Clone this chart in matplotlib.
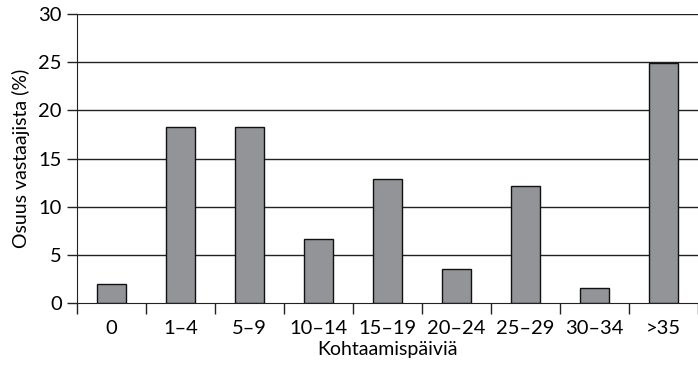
import numpy as np
import matplotlib.pyplot as plt

plt.rcParams['font.family'] = ['Lato', 'DejaVu Sans']

categories = ['0', '1–4', '5–9', '10–14', '15–19', '20–24', '25–29', '30–34', '>35']
values = [2.0, 18.3, 18.3, 6.6, 12.9, 3.5, 12.1, 1.6, 24.9]
y_ticks = [0, 5, 10, 15, 20, 25, 30]

fig = plt.figure(figsize=(6.98, 3.65), dpi=100, facecolor='w')
ax = fig.add_axes([77 / 698, 1 - 303 / 365, 1 - 77 / 698, (303 - 14) / 365])

x = np.arange(len(categories))
ax.bar(x, values, width=0.41, color='#939498', edgecolor='#111111', linewidth=1.0, zorder=3)

ax.set_xlim(-0.5, len(categories) - 0.5)
ax.set_ylim(0, 30)
ax.set_yticks(y_ticks)
ax.set_yticklabels([str(t) for t in y_ticks], fontsize=14.5)
for t in y_ticks[1:]:
    ax.axhline(t, color='#222222', lw=1.0, zorder=1)

# category labels centred, tick marks at the category boundaries
ax.set_xticks(x)
ax.set_xticklabels(categories, fontsize=14.5)
ax.tick_params(axis='x', length=0, pad=12)
ax.set_xticks(np.arange(len(categories) + 1) - 0.5, minor=True)
ax.tick_params(axis='x', which='minor', length=8, width=1, direction='out', color='#222222')
ax.tick_params(axis='y', length=7, width=1, color='#222222', pad=4)

ax.spines['top'].set_visible(False)
ax.spines['right'].set_visible(False)
ax.spines['left'].set_color('#222222')
ax.spines['bottom'].set_color('#222222')
ax.spines['bottom'].set_zorder(4)

ax.set_xlabel('Kohtaamispäiviä', fontsize=14, labelpad=3)
ax.set_ylabel('Osuus vastaajista (%)', fontsize=14, labelpad=6)

plt.savefig('out.png', dpi=100)
